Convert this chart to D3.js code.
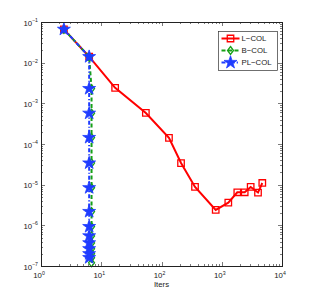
<!DOCTYPE html>
<html>
<head>
<meta charset="utf-8">
<script src="https://cdn.jsdelivr.net/npm/d3@7"></script>
<style>
body { margin:0; background:#fff; }
text { font-family: "Liberation Sans", Arial, sans-serif; fill:#222; }
</style>
</head>
<body>
<svg id="chart" width="311" height="299"></svg>
<script>
// ---- data ----
var lcolIters = [2.4, 6.3, 17, 55, 133, 211, 360, 794, 1285, 1812, 2404, 3020, 3998, 4710];
var lcolRes   = [0.066, 0.014, 0.0024, 5.8e-4, 1.41e-4, 3.4e-5, 8.8e-6, 2.4e-6, 3.6e-6, 6.5e-6, 6.5e-6, 8.8e-6, 6.4e-6, 1.1e-5];

var bcolIters = [2.4, 6.3, 6.9, 6.9, 6.9, 6.9, 6.9, 6.9, 6.9, 6.9, 6.9, 6.9, 6.9, 6.9, 6.9];
var bcolRes   = [0.066, 0.014, 0.0023, 5.7e-4, 1.44e-4, 3.4e-5, 8.4e-6, 2.18e-6, 9.3e-7, 5.5e-7, 3.7e-7, 2.65e-7, 2.0e-7, 1.6e-7, 1.2e-7];

var plIters = [2.4, 6.3, 6.3, 6.3, 6.3, 6.3, 6.3, 6.3, 6.3, 6.3, 6.3, 6.3, 6.3, 6.3];
var plRes   = [0.066, 0.014, 0.0023, 5.7e-4, 1.44e-4, 3.4e-5, 8.4e-6, 2.18e-6, 9.3e-7, 5.5e-7, 3.7e-7, 2.65e-7, 2.0e-7, 1.6e-7];

var xTickExp = [0, 1, 2, 3, 4];
var yTickExp = [-7, -6, -5, -4, -3, -2, -1];
var legendNames = ["L\u2212COL", "B\u2212COL", "PL\u2212COL"];

// ---- layout ----
var svg = d3.select("#chart");
var mLeft = 41, mTop = 22, w = 241, h = 244;

var x = d3.scaleLog().domain([1, 1e4]).range([mLeft, mLeft + w]);
var y = d3.scaleLog().domain([1e-7, 1e-1]).range([mTop + h, mTop]);

var red = "#ff0000", green = "#16a016", blue = "#1f3cff";

function zip(xs, ys){ return xs.map(function(v, i){ return [v, ys[i]]; }); }

var series = [
	{name: legendNames[0], pts: zip(lcolIters, lcolRes), color: red, dash: null, sym: "square"},
	{name: legendNames[1], pts: zip(bcolIters, bcolRes), color: green, dash: "4,2.5", sym: "diamond"},
	{name: legendNames[2], pts: zip(plIters, plRes), color: blue, dash: "4,2,1.2,2", sym: "star"}
];

// ---- ticks (inside, all four sides) ----
var g = svg.append("g");
var minorX = [], minorY = [];
for (var e = 0; e < 4; e++) for (var k = 2; k <= 9; k++) minorX.push(k * Math.pow(10, e));
for (var e2 = -7; e2 < -1; e2++) for (var k2 = 2; k2 <= 9; k2++) minorY.push(k2 * Math.pow(10, e2));

function tick(x1, y1, x2, y2){
	g.append("line").attr("x1", x1).attr("y1", y1).attr("x2", x2).attr("y2", y2)
		.attr("stroke", "#222").attr("stroke-width", 0.6);
}
xTickExp.forEach(function(ex){
	var px = Math.round(x(Math.pow(10, ex))) + 0.5;
	tick(px, mTop + h, px, mTop + h - 4);
	tick(px, mTop, px, mTop + 4);
});
minorX.forEach(function(v){
	var px = Math.round(x(v)) + 0.5;
	tick(px, mTop + h, px, mTop + h - 2);
	tick(px, mTop, px, mTop + 2);
});
yTickExp.forEach(function(ex){
	var py = Math.round(y(Math.pow(10, ex))) + 0.5;
	tick(mLeft, py, mLeft + 4, py);
	tick(mLeft + w, py, mLeft + w - 4, py);
});
minorY.forEach(function(v){
	var py = Math.round(y(v)) + 0.5;
	tick(mLeft, py, mLeft + 2, py);
	tick(mLeft + w, py, mLeft + w - 2, py);
});

// ---- tick labels ----
xTickExp.forEach(function(ex){
	var t = g.append("text").attr("x", x(Math.pow(10, ex)) - 2).attr("y", mTop + h + 12)
		.attr("text-anchor", "middle").attr("font-size", 7.8);
	t.append("tspan").text("10");
	t.append("tspan").attr("dy", -3.5).attr("font-size", 5.2).text(ex);
});
yTickExp.forEach(function(ex){
	var t = g.append("text").attr("x", mLeft - 3).attr("y", y(Math.pow(10, ex)) + 3.5)
		.attr("text-anchor", "end").attr("font-size", 7.8);
	t.append("tspan").text("10");
	t.append("tspan").attr("dy", -3.5).attr("font-size", 5.2).text("\u2212" + (-ex));
});
g.append("text").attr("x", x(100)).attr("y", mTop + h + 21)
	.attr("text-anchor", "middle").attr("font-size", 7.8).text("Iters");

// ---- lines and markers ----
var line = d3.line().x(function(d){ return x(d[0]); }).y(function(d){ return y(d[1]); });

function marker(sel, s){
	if (s.sym === "square") {
		sel.append("path").attr("d", d3.symbol(d3.symbolSquare, 42)())
			.attr("fill", "none").attr("stroke", s.color).attr("stroke-width", 1.3);
	} else if (s.sym === "diamond") {
		sel.append("path").attr("d", "M0,-4L3,0L0,4L-3,0Z")
			.attr("fill", "none").attr("stroke", s.color).attr("stroke-width", 1.3);
	} else {
		sel.append("path").attr("d", d3.symbol(d3.symbolStar, 52)())
			.attr("fill", s.color).attr("stroke", s.color).attr("stroke-width", 0.8);
	}
}

series.forEach(function(s){
	g.append("path").datum(s.pts).attr("d", line)
		.attr("fill", "none").attr("stroke", s.color).attr("stroke-width", 2)
		.attr("stroke-dasharray", s.dash);
	s.pts.forEach(function(p){
		var m = g.append("g").attr("transform", "translate(" + x(p[0]) + "," + y(p[1]) + ")");
		marker(m, s);
	});
});

// ---- axes box ----
g.append("rect").attr("x", mLeft + 0.5).attr("y", mTop + 0.5).attr("width", w).attr("height", h)
	.attr("fill", "none").attr("stroke", "#222").attr("stroke-width", 1);

// ---- legend ----
var lg = svg.append("g").attr("transform", "translate(218.5,31.5)");
lg.append("rect").attr("width", 59).attr("height", 39)
	.attr("fill", "#fff").attr("stroke", "#333").attr("stroke-width", 0.7);
series.forEach(function(s, i){
	var ly = 7 + i * 12;
	lg.append("line").attr("x1", 3).attr("x2", 21).attr("y1", ly).attr("y2", ly)
		.attr("stroke", s.color).attr("stroke-width", 2).attr("stroke-dasharray", s.dash);
	marker(lg.append("g").attr("transform", "translate(12," + ly + ")"), s);
	lg.append("text").attr("x", 23).attr("y", ly + 2.7).attr("font-size", 7.8).text(s.name);
});
</script>
</body>
</html>
